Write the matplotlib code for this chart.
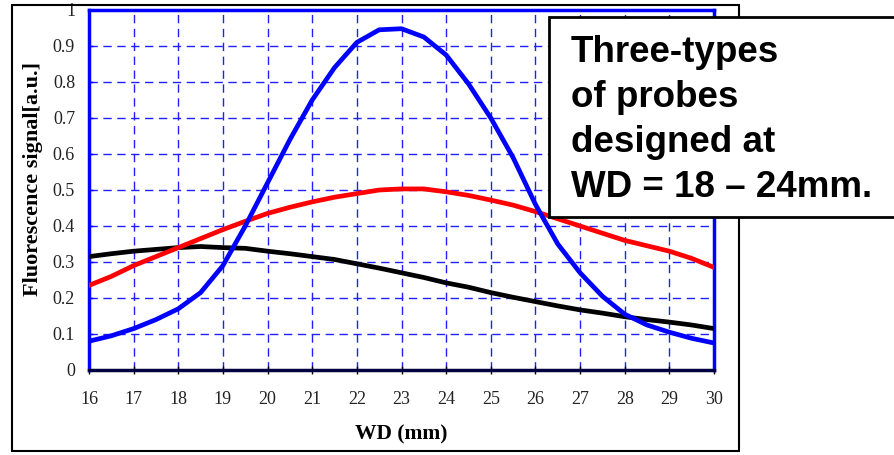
import matplotlib
matplotlib.use("Agg")
import matplotlib.pyplot as plt
from matplotlib.patches import Rectangle

# WD positions (mm)
wd = [16, 16.5, 17, 17.5, 18, 18.5, 19, 19.5, 20, 20.5, 21, 21.5, 22, 22.5,
      23, 23.5, 24, 24.5, 25, 25.5, 26, 26.5, 27, 27.5, 28, 28.5, 29, 29.5, 30]

# probe signals
blue_sig = [0.08, 0.095, 0.115, 0.14, 0.17, 0.215, 0.29, 0.40, 0.52, 0.64, 0.75, 0.84,
            0.91, 0.945, 0.948, 0.925, 0.875, 0.795, 0.70, 0.59, 0.46, 0.35, 0.27, 0.205,
            0.155, 0.125, 0.105, 0.088, 0.075]
red_sig = [0.235, 0.26, 0.29, 0.315, 0.34, 0.365, 0.39, 0.413, 0.435, 0.452, 0.467, 0.48,
           0.49, 0.5, 0.503, 0.503, 0.495, 0.485, 0.472, 0.458, 0.44, 0.42, 0.4, 0.38,
           0.36, 0.345, 0.33, 0.31, 0.285]
black_sig = [0.315, 0.323, 0.33, 0.335, 0.34, 0.343, 0.34, 0.338, 0.33, 0.323, 0.315, 0.307,
             0.295, 0.283, 0.27, 0.257, 0.242, 0.23, 0.215, 0.202, 0.19, 0.178, 0.167, 0.158,
             0.148, 0.14, 0.133, 0.125, 0.115]

x_ticks = list(range(16, 31))
y_ticks = [0, 0.1, 0.2, 0.3, 0.4, 0.5, 0.6, 0.7, 0.8, 0.9, 1]
y_labels = ['0', '0.1', '0.2', '0.3', '0.4', '0.5', '0.6', '0.7', '0.8', '0.9', '1']

note = "Three-types\nof probes\ndesigned at\nWD = 18 \u2013 24mm."

fig = plt.figure(figsize=(8.94, 4.55), dpi=100)
# outer chart frame
fig.patches.append(Rectangle((12 / 894, 1 - 451 / 455), 727 / 894, 446 / 455,
                             transform=fig.transFigure, fill=False, edgecolor='black',
                             linewidth=1.5))

ax = fig.add_axes([89 / 894, 1 - 370 / 455, 625 / 894, 360 / 455])
ax.plot(wd, black_sig, color='black', linewidth=3.4, zorder=3)
ax.plot(wd, red_sig, color='#ff0000', linewidth=3.4, zorder=3)
ax.plot(wd, blue_sig, color='#0000ff', linewidth=3.4, zorder=4)

ax.set_xlim(16, 30)
ax.set_ylim(0, 1)
ax.set_xticks(x_ticks)
ax.set_yticks(y_ticks)
ax.set_yticklabels(y_labels)
ax.grid(True, color='#2020ff', linestyle=(0, (6, 4)), linewidth=1.0)
ax.set_axisbelow(True)

for side in ['top', 'left', 'right']:
    ax.spines[side].set_color('#0000ff')
    ax.spines[side].set_linewidth(2.5)
ax.spines['bottom'].set_color('#000040')
ax.spines['bottom'].set_linewidth(2.5)

ax.tick_params(axis='x', direction='inout', length=6, width=1, pad=12,
               labelsize=13, color='black')
ax.tick_params(axis='y', direction='in', length=3, width=1, pad=10, labelsize=13,
               color='#0000ff')
for lab in ax.get_xticklabels() + ax.get_yticklabels():
    lab.set_family('Liberation Serif')
    lab.set_color('#222222')

ax.set_xlabel('WD (mm)', family='Liberation Serif', fontweight='bold', fontsize=15.5,
              labelpad=12)
ax.set_ylabel('Fluorescence signal[a.u.]', family='Liberation Serif', fontweight='bold',
              fontsize=16)
ax.yaxis.set_label_coords(-0.0736, 0.53)

# annotation box
fig.patches.append(Rectangle((549 / 894, 1 - 217 / 455), 360 / 894, 200 / 455,
                             transform=fig.transFigure, facecolor='white',
                             edgecolor='black', linewidth=2, zorder=10))
fig.text(571 / 894, 1 - 120 / 455, note, family='Liberation Sans', fontweight='bold',
         fontsize=26.5, va='center', ha='left', linespacing=1.38, zorder=11)

fig.savefig('out.png', dpi=100)
